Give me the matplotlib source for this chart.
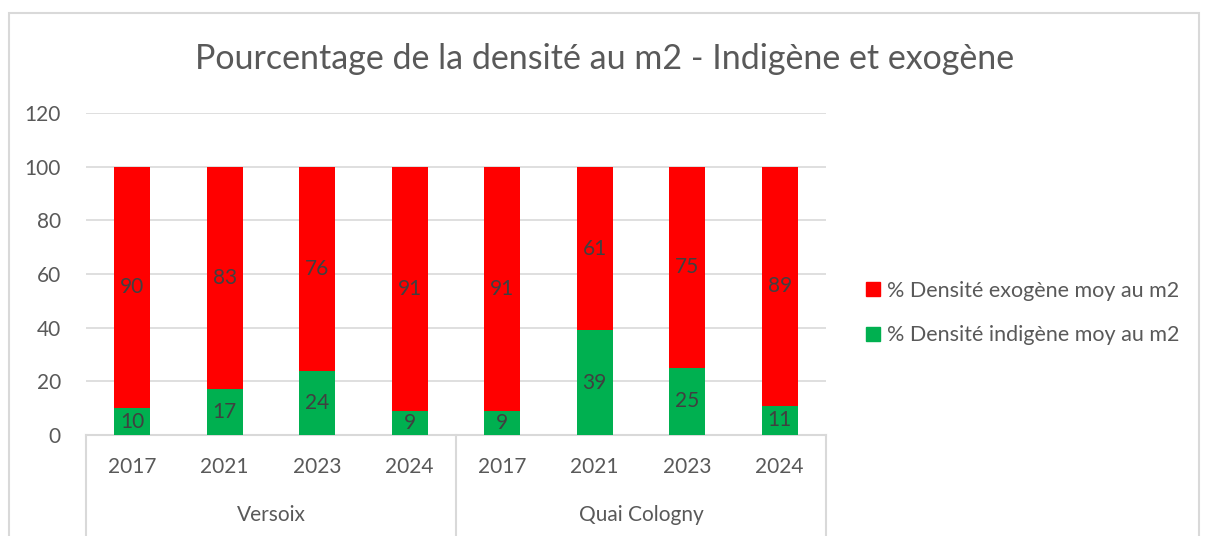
import matplotlib
matplotlib.use('Agg')
import matplotlib.pyplot as plt
import matplotlib.patches as mpatches
import matplotlib.transforms as mtransforms
import numpy as np

plt.rcParams['font.family'] = ['Lato', 'DejaVu Sans']

# data
years = ['2017', '2021', '2023', '2024', '2017', '2021', '2023', '2024']
sites = ['Versoix', 'Quai Cologny']
indigene = [10, 17, 24, 9, 9, 39, 25, 11]
exogene = [90, 83, 76, 91, 91, 61, 75, 89]

RED = '#FF0000'
GREEN = '#00B050'
TXT = '#595959'
LBL = '#404040'
GRID = '#D9D9D9'

fig = plt.figure(figsize=(12.09, 5.36), dpi=100)
ax = fig.add_axes([0.0711, 0.1884, 0.6120, 0.6006])

x = np.arange(len(years))
w = 0.39
b1 = ax.bar(x, indigene, w, color=GREEN, label='% Densité indigène moy au m2', zorder=3)
b2 = ax.bar(x, exogene, w, bottom=indigene, color=RED,
            label='% Densité exogène moy au m2', zorder=3)

for xi, g, r in zip(x, indigene, exogene):
    ax.text(xi, g / 2, str(g), ha='center', va='center', fontsize=15, color=LBL, zorder=4)
    ax.text(xi, g + r / 2, str(r), ha='center', va='center', fontsize=15, color=LBL, zorder=4)

ax.set_xlim(-0.5, len(years) - 0.5)
ax.set_ylim(0, 120)
ax.set_yticks(np.arange(0, 121, 20))
ax.tick_params(axis='y', length=0, labelsize=15, labelcolor=TXT, pad=18)
ax.set_xticks([])
ax.yaxis.grid(True, color=GRID, lw=1.2, zorder=0)
for s in ax.spines.values():
    s.set_visible(False)

# multi-level category axis
tr = mtransforms.blended_transform_factory(ax.transData, ax.transAxes)
bot = -0.32
ax.plot([-0.5, len(years) - 0.5], [0, 0], transform=tr, color=GRID, lw=1.5, clip_on=False)
for xs in [-0.5, 3.5, len(years) - 0.5]:
    ax.plot([xs, xs], [0, bot], transform=tr, color=GRID, lw=1.5, clip_on=False)
for xi, yr in zip(x, years):
    ax.text(xi, -0.1, yr, transform=tr, ha='center', va='center', fontsize=15, color=TXT)
for i, s in enumerate(sites):
    ax.text(i * 4 + 1.5, -0.25, s, transform=tr, ha='center', va='center', fontsize=15, color=TXT)

fig.text(0.5, 0.890, 'Pourcentage de la densité au m2 - Indigène et exogène',
         ha='center', va='center', fontsize=24.5, color=TXT)

handles = [mpatches.Patch(color=RED), mpatches.Patch(color=GREEN)]
fig.legend(handles, ['% Densité exogène moy au m2', '% Densité indigène moy au m2'],
           loc='center left', bbox_to_anchor=(0.700, 0.416), frameon=False,
           fontsize=15.5, labelcolor=TXT, handlelength=0.65, handleheight=0.65,
           handletextpad=0.35, labelspacing=1.15)

# chart border
fig.patches.append(mpatches.Rectangle((9 / 1209, -0.1), 1190 / 1209, 1 - 13 / 536 + 0.1,
                                      transform=fig.transFigure, fill=False,
                                      edgecolor=GRID, lw=1.5))

fig.savefig('out.png', dpi=100, facecolor='white')
